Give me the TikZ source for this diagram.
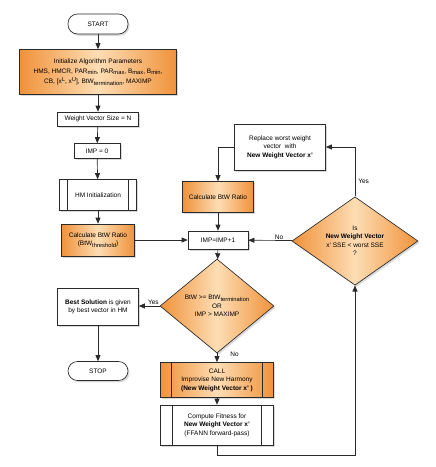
\documentclass[tikz,border=0pt]{standalone}
\usepackage{fontspec}
\setmainfont{Liberation Sans}
\usetikzlibrary{shapes.geometric,shadows,arrows.meta}
\definecolor{ordark}{HTML}{F0923A}
\definecolor{orlight}{HTML}{FDDDB4}
\definecolor{lin}{HTML}{2A2A2A}
\newcommand\mysb[1]{\raisebox{-0.45ex}{\fontsize{5.8}{6}\selectfont #1}}
\newcommand\mysp[1]{\raisebox{0.7ex}{\fontsize{5.8}{6}\selectfont #1}}
\begin{document}
\begin{tikzpicture}[x=1pt,y=-1pt,
  font=\fontsize{6.5}{8.5}\selectfont,
  base/.style={draw=lin, line width=0.65pt, align=center, inner sep=1pt,
    drop shadow={shadow xshift=1.5pt, shadow yshift=-1.8pt, opacity=0.3}},
  box/.style={base, rectangle, fill=white},
  orbox/.style={base, rectangle, left color=ordark, right color=ordark, middle color=orlight},
  term/.style={base, rectangle, rounded corners=9.5pt, fill=white, minimum width=60pt, minimum height=20pt},
  decision/.style={base, diamond, inner sep=0pt, left color=ordark, right color=ordark, middle color=orlight},
  proc/.style={path picture={
      \draw[lin, line width=0.65pt] ([xshift=#1]path picture bounding box.north west) -- ([xshift=#1]path picture bounding box.south west);
      \draw[lin, line width=0.65pt] ([xshift=-#1]path picture bounding box.north east) -- ([xshift=-#1]path picture bounding box.south east);}},
  arr/.style={draw=lin, line width=0.65pt, -{Triangle[length=6pt,width=5pt]}},
  lab/.style={font=\fontsize{6.5}{8}\selectfont, inner sep=1pt}
]
\useasboundingbox (0,0) rectangle (436,467);

\node[term] (start) at (98,24) {START};
\node[orbox, minimum width=157pt, minimum height=45pt] (init) at (98,72)
  {Initialize Algorithm Parameters\\[1pt]
   HMS, HMCR, PAR\mysb{min}, PAR\mysb{max}, B\mysb{max}, B\mysb{min},\\[2pt]
   CB, [x\mysp{L}, x\mysp{U}], BtW\mysb{termination}, MAXIMP};
\node[box, minimum width=81pt, minimum height=14pt] (wvs) at (98,119) {Weight Vector Size = N};
\node[box, minimum width=46pt, minimum height=15pt] (imp0) at (97,151) {IMP = 0};
\node[box, proc=8pt, minimum width=77pt, minimum height=31pt] (hminit) at (98,195) {HM Initialization};
\node[orbox, minimum width=73pt, minimum height=32pt] (calc1) at (98,240) {Calculate BtW Ratio\\(BtW\mysb{threshold})};
\node[box, minimum width=60pt, minimum height=18pt] (impinc) at (218,240) {IMP=IMP+1};
\node[orbox, minimum width=71pt, minimum height=31pt] (calc2) at (218,197) {Calculate BtW Ratio};
\node[box, minimum width=91pt, minimum height=46pt] (replace) at (280,147)
  {Replace worst weight\\vector \ with\\\textbf{New Weight Vector x'}};
\node[decision, minimum width=126pt, minimum height=68pt] (dec2) at (355,241)
  {Is\\\textbf{New Weight Vector}\\x' SSE < worst SSE\\?};
\node[decision, minimum width=114pt, minimum height=94pt] (dec1) at (217,306)
  {BtW >= BtW\mysb{termination}\\OR\\IMP > MAXIMP};
\node[box, minimum width=81pt, minimum height=37pt] (best) at (98,307)
  {\textbf{Best Solution} is given\\by best vector in HM};
\node[term, minimum height=19pt] (stop) at (98,371) {STOP};
\node[orbox, proc=11pt, minimum width=113pt, minimum height=35pt] (call) at (217,380)
  {CALL\\Improvise New Harmony\\\textbf{(New Weight Vector x' )}};
\node[box, proc=12pt, minimum width=113pt, minimum height=40pt] (fit) at (217,425)
  {Compute Fitness for\\\textbf{New Weight Vector x'}\\(FFANN forward-pass)};
\coordinate (loop) at (217,455);

\draw[arr] (start) -- (init);
\draw[arr] (init) -- (wvs);
\draw[arr] (wvs) -- (imp0);
\draw[arr] (imp0) -- (hminit);
\draw[arr] (hminit) -- (calc1);
\draw[arr] (calc1) -- (impinc);
\draw[arr] (impinc) -- (dec1);
\draw[arr] (dec1.west) -- node[lab, above, pos=0.3] {Yes} (dec1.west -| best.east);
\draw[arr] (best) -- (stop);
\draw[arr] (dec1) -- node[lab, right, pos=0.0, xshift=12pt, yshift=-1pt] {No} (call);
\draw[arr] (call) -- (fit);
\draw[arr] (fit) -- (loop) -| (dec2);
\draw[arr] (dec2) -- node[lab, above, pos=0.3] {No} (impinc);
\draw[arr] (dec2.north) |- node[lab, right, pos=0.15, xshift=2pt] {Yes} (replace.east);
\draw[arr] (replace.west) -| (calc2.north);
\draw[arr] (calc2) -- (impinc);
\end{tikzpicture}
\end{document}
